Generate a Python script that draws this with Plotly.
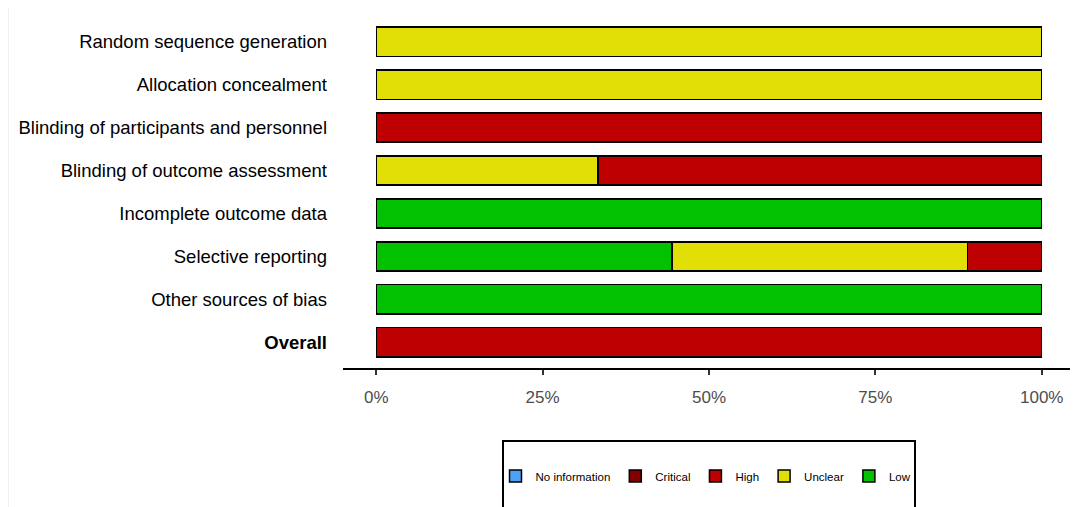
import plotly.graph_objects as go

domains = [
    "Random sequence generation",
    "Allocation concealment",
    "Blinding of participants and personnel",
    "Blinding of outcome assessment",
    "Incomplete outcome data",
    "Selective reporting",
    "Other sources of bias",
    "Overall",
]
tick_labels = domains[:-1] + ["<b>Overall</b>"]

# percentage of studies per judgement (9 studies)
low = [0, 0, 0, 0, 100, 44.44, 100, 0]
unclear = [100, 100, 0, 33.33, 0, 44.44, 0, 0]
high = [0, 0, 100, 66.67, 0, 11.11, 0, 100]
critical = [0, 0, 0, 0, 0, 0, 0, 0]
no_info = [0, 0, 0, 0, 0, 0, 0, 0]

series = [
    ("Low", low, "#02C100"),
    ("Unclear", unclear, "#E2DF07"),
    ("High", high, "#BF0000"),
    ("Critical", critical, "#820000"),
    ("No information", no_info, "#4EA1F7"),
]

x_ticks = [0, 25, 50, 75, 100]
x_tick_text = ["0%", "25%", "50%", "75%", "100%"]

fig = go.Figure()
for name, vals, col in series:
    fig.add_trace(go.Bar(
        y=domains, x=vals, name=name, orientation="h",
        marker=dict(color=col, line=dict(color="black", width=1.5)),
        width=0.68,
    ))

FONT = "Liberation Sans, Arial, sans-serif"
# page body has an 8px margin: figure is 1070x499 so it fills the window
W, H = 1070, 499
L, R, T, B = 335, 3, 8, 139
pw, ph = W - L - R, H - T - B


def px_x(px):
    return (px - 8 - L) / pw


def px_y(py):
    return (H - B - (py - 8)) / ph


fig.update_layout(
    barmode="stack",
    width=W, height=H,
    margin=dict(l=L, r=R, t=T, b=B),
    paper_bgcolor="white", plot_bgcolor="white",
    font=dict(family=FONT, color="black"),
    showlegend=True,
    legend=dict(
        orientation="h", traceorder="reversed",
        x=px_x(706), xanchor="center", y=px_y(476), yanchor="middle",
        font=dict(size=11.5, family=FONT, color="black"),
        bgcolor="rgba(0,0,0,0)", borderwidth=0,
    ),
    xaxis=dict(
        range=[-5, 105], tickvals=x_ticks, ticktext=x_tick_text,
        showgrid=False, zeroline=False,
        showline=True, linecolor="black", linewidth=2,
        ticks="outside", ticklen=5, tickwidth=1.5, tickcolor="#333333",
        ticklabelstandoff=8,
        tickfont=dict(size=17, color="#4d4d4d", family=FONT),
    ),
    yaxis=dict(
        categoryorder="array", categoryarray=domains,
        tickvals=domains, ticktext=tick_labels,
        range=[7.6, -0.6], showgrid=False, zeroline=False, showline=False,
        ticks="", ticklabelstandoff=15,
        tickfont=dict(size=18.5, color="black", family=FONT),
    ),
    shapes=[
        dict(type="rect", xref="paper", yref="paper",
             x0=px_x(503), x1=px_x(915), y0=px_y(441), y1=px_y(515),
             line=dict(color="black", width=2), fillcolor="rgba(0,0,0,0)",
             layer="below"),
        dict(type="line", xref="paper", yref="paper",
             x0=px_x(8), x1=px_x(8), y0=px_y(520), y1=px_y(-5),
             line=dict(color="#e4e4e4", width=1)),
    ],
)

fig.write_html("out.html")
